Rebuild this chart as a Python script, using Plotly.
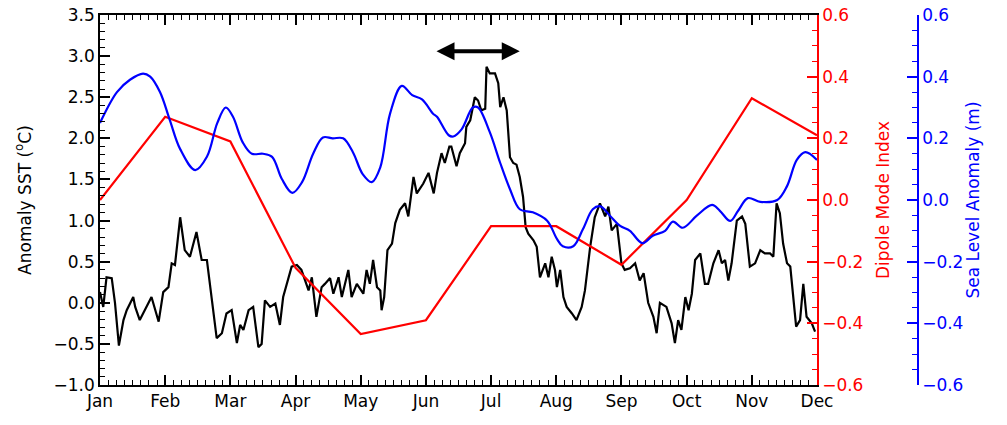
import plotly.graph_objects as go

months = ["Jan", "Feb", "Mar", "Apr", "May", "Jun", "Jul", "Aug", "Sep", "Oct", "Nov", "Dec"]
month_pos = list(range(12))

# Dipole Mode Index (monthly)
dmi = [0.0, 0.27, 0.19, -0.22, -0.435, -0.39, -0.085, -0.085, -0.21, 0.0, 0.33, 0.21]

# Sea level anomaly (m), time in fractional months
sla_t = [0.00, 0.26, 0.46, 0.66, 0.77, 0.92, 1.07, 1.23, 1.46, 1.64, 1.80, 1.93, 2.04, 2.19, 2.33,
         2.50, 2.64, 2.79, 2.95, 3.10, 3.27, 3.42, 3.57, 3.73, 3.88, 4.03, 4.17, 4.30, 4.45, 4.63,
         4.79, 4.94, 5.11, 5.17, 5.35, 5.42, 5.55, 5.72, 5.80, 5.98, 6.14, 6.29, 6.44, 6.64, 6.86,
         7.01, 7.10, 7.26, 7.41, 7.56, 7.67, 7.82, 7.98, 8.13, 8.32, 8.48, 8.67, 8.79, 8.94, 9.16,
         9.39, 9.51, 9.67, 9.79, 9.94, 10.13, 10.39, 10.54, 10.69, 10.82, 11.00]
sla = [0.25, 0.35, 0.39, 0.41, 0.40, 0.35, 0.26, 0.165, 0.097, 0.14, 0.25, 0.30, 0.27, 0.187, 0.15,
       0.15, 0.14, 0.068, 0.023, 0.058, 0.15, 0.203, 0.20, 0.20, 0.155, 0.084, 0.058, 0.106, 0.28, 0.37,
       0.34, 0.326, 0.28, 0.27, 0.21, 0.206, 0.23, 0.30, 0.30, 0.22, 0.12, 0.035, -0.03, -0.04, -0.067,
       -0.126, -0.15, -0.15, -0.094, -0.03, -0.02, -0.05, -0.084, -0.10, -0.14, -0.116, -0.10, -0.07, -0.09, -0.05,
       -0.016, -0.035, -0.068, -0.035, 0.006, -0.006, 0.0, 0.045, 0.13, 0.155, 0.13]

# SST anomaly (degC), time in fractional months
sst_t = [0.00, 0.05, 0.10, 0.18, 0.23, 0.29, 0.36, 0.41, 0.51, 0.54, 0.61, 0.69, 0.79, 0.90, 0.97,
         1.05, 1.10, 1.15, 1.23, 1.30, 1.38, 1.48, 1.56, 1.64, 1.71, 1.79, 1.87, 1.94, 2.02, 2.10,
         2.15, 2.20, 2.28, 2.35, 2.43, 2.48, 2.53, 2.61, 2.69, 2.76, 2.81, 2.94, 3.02, 3.09, 3.20,
         3.25, 3.32, 3.40, 3.45, 3.53, 3.58, 3.66, 3.71, 3.81, 3.86, 3.94, 4.04, 4.09, 4.14, 4.19,
         4.25, 4.30, 4.32, 4.36, 4.41, 4.48, 4.53, 4.60, 4.68, 4.73, 4.81, 4.86, 4.96, 5.04, 5.12,
         5.17, 5.24, 5.29, 5.36, 5.39, 5.47, 5.52, 5.60, 5.62, 5.68, 5.75, 5.80, 5.85, 5.91, 5.93,
         5.98, 6.06, 6.11, 6.14, 6.19, 6.24, 6.29, 6.34, 6.39, 6.44, 6.49, 6.53, 6.57, 6.65, 6.70,
         6.75, 6.83, 6.88, 6.93, 6.98, 7.01, 7.06, 7.11, 7.16, 7.24, 7.31, 7.39, 7.44, 7.52, 7.59,
         7.67, 7.75, 7.80, 7.85, 7.93, 8.00, 8.05, 8.13, 8.21, 8.28, 8.34, 8.41, 8.49, 8.54, 8.59,
         8.69, 8.77, 8.82, 8.87, 8.92, 8.98, 9.03, 9.08, 9.13, 9.21, 9.28, 9.33, 9.41, 9.49, 9.54,
         9.59, 9.64, 9.69, 9.77, 9.85, 9.90, 9.97, 10.05, 10.13, 10.20, 10.28, 10.33, 10.38, 10.43, 10.48,
         10.54, 10.59, 10.64, 10.68, 10.74, 10.79, 10.84, 10.92, 10.97]
sst = [0.13, -0.05, 0.31, 0.30, 0.0, -0.52, -0.21, -0.09, 0.07, -0.05, -0.21, -0.09, 0.07, -0.23, 0.13,
       0.19, 0.48, 0.46, 1.04, 0.64, 0.56, 0.86, 0.52, 0.52, 0.07, -0.43, -0.37, -0.13, -0.09, -0.49,
       -0.27, -0.33, -0.09, -0.05, -0.54, -0.50, 0.03, -0.05, -0.01, -0.27, 0.07, 0.44, 0.46, 0.40, 0.15,
       0.31, -0.17, 0.19, 0.23, 0.30, 0.11, 0.31, 0.07, 0.40, 0.07, 0.23, 0.11, 0.40, 0.23, 0.52,
       0.19, 0.15, -0.09, 0.07, 0.64, 0.72, 0.97, 1.13, 1.21, 1.05, 1.53, 1.33, 1.45, 1.58, 1.33,
       1.58, 1.82, 1.70, 1.90, 1.90, 1.66, 1.82, 1.94, 2.14, 2.22, 2.50, 2.46, 2.34, 2.36, 2.87,
       2.79, 2.79, 2.67, 2.38, 2.50, 2.34, 1.77, 1.70, 1.68, 1.53, 1.29, 0.92, 0.84, 0.76, 0.68,
       0.31, 0.48, 0.31, 0.56, 0.40, 0.19, 0.40, 0.07, -0.05, -0.13, -0.21, -0.05, 0.15, 0.68, 1.04,
       1.21, 1.05, 1.17, 0.88, 0.96, 0.48, 0.40, 0.42, 0.48, 0.27, 0.36, 0.0, -0.17, -0.37, 0.0,
       -0.05, -0.25, -0.49, -0.21, -0.33, 0.07, -0.09, 0.11, 0.52, 0.60, 0.23, 0.23, 0.48, 0.64, 0.48,
       0.52, 0.27, 0.48, 1.0, 1.05, 0.96, 0.44, 0.48, 0.64, 0.60, 0.60, 0.56, 1.21, 1.09, 0.72,
       0.48, 0.44, 0.07, -0.29, -0.21, 0.23, -0.17, -0.25, -0.35]

# period arrow (fractional months) and its height (degC)
arrow_start, arrow_end, arrow_level = 5.14, 6.44, 3.06

FONT = "DejaVu Sans"
RED = "#ff0000"
BLUE = "#0000ff"

fig = go.Figure()
fig.add_trace(go.Scatter(x=sla_t, y=sla, mode="lines", line=dict(color=BLUE, width=2.2, shape="spline"),
                         yaxis="y3", showlegend=False))
fig.add_trace(go.Scatter(x=month_pos, y=dmi, mode="lines", line=dict(color=RED, width=2.2),
                         yaxis="y2", showlegend=False))
fig.add_trace(go.Scatter(x=sst_t, y=sst, mode="lines", line=dict(color="black", width=2.2),
                         yaxis="y", showlegend=False))

fig.add_annotation(x=arrow_end, y=arrow_level, ax=arrow_start, ay=arrow_level, xref="x", yref="y",
                   axref="x", ayref="y", text="", showarrow=True, arrowhead=2, arrowside="end+start",
                   arrowwidth=4, arrowsize=0.9, arrowcolor="black")

fig.update_layout(
    width=1007, height=425,
    margin=dict(l=100, r=89, t=15, b=40, autoexpand=False),
    paper_bgcolor="white", plot_bgcolor="white",
    font=dict(family=FONT, size=17, color="black"),
    xaxis=dict(domain=[0, 717 / 818], range=[0, 11], tickvals=month_pos, ticktext=months,
               showline=True, linecolor="black", linewidth=1.5, mirror="ticks", automargin=False,
               ticks="inside", ticklen=10, tickcolor="black", tickwidth=1.5,
               minor=dict(ticks="inside", ticklen=5, dtick=0.125, tickcolor="black", tickwidth=1),
               showgrid=False, zeroline=False, tickfont=dict(size=17)),
    yaxis=dict(range=[-1.0, 3.5], dtick=0.5, tickformat=".1f", automargin=False,
               showline=True, linecolor="black", linewidth=1.5,
               ticks="inside", ticklen=10, tickcolor="black", tickwidth=1.5,
               minor=dict(ticks="inside", ticklen=5, dtick=0.1, tickcolor="black", tickwidth=1),
               showgrid=False, zeroline=False,
               title=dict(text="Anomaly SST (<sup>o</sup>C)", font=dict(size=17), standoff=18)),
    yaxis2=dict(range=[-0.6, 0.6], dtick=0.2, tickformat=".1f", overlaying="y", side="right",
                anchor="x", showline=True, linecolor=RED, linewidth=1.5, automargin=False,
                ticks="inside", ticklen=10, tickcolor=RED, tickwidth=1.5,
                minor=dict(ticks="inside", ticklen=5, dtick=0.05, tickcolor=RED, tickwidth=1),
                showgrid=False, zeroline=False, tickfont=dict(color=RED, size=17),
                title=dict(text="Dipole Mode Index", font=dict(color=RED, size=17), standoff=15)),
    yaxis3=dict(range=[-0.6, 0.6], dtick=0.2, tickformat=".1f", overlaying="y", side="right",
                anchor="free", position=1.0, showline=True, linecolor=BLUE, linewidth=1.5,
                automargin=False,
                ticks="inside", ticklen=10, tickcolor=BLUE, tickwidth=1.5,
                minor=dict(ticks="inside", ticklen=5, dtick=0.05, tickcolor=BLUE, tickwidth=1),
                showgrid=False, zeroline=False, tickfont=dict(color=BLUE, size=17),
                title=dict(text="Sea Level Anomaly (m)", font=dict(color=BLUE, size=17), standoff=1)),
)

fig.write_html("out.html", config={"displayModeBar": False},
               post_script="document.body.style.margin='0';document.body.style.overflow='hidden';")
